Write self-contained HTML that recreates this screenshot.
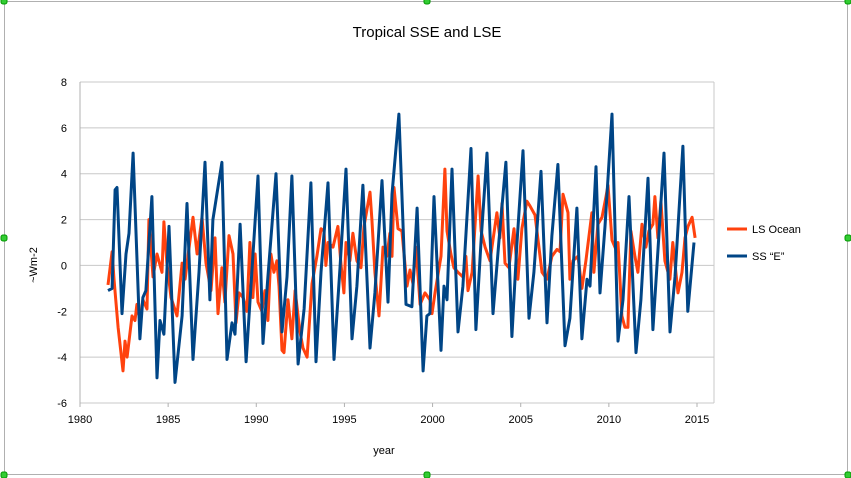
<!DOCTYPE html>
<html><head><meta charset="utf-8"><style>
html,body{margin:0;padding:0;background:#fff;}
svg{display:block;font-family:"Liberation Sans",sans-serif;}
</style></head><body>
<svg id="chart" width="851" height="478" viewBox="0 0 851 478">
<rect x="0" y="0" width="851" height="478" fill="#fff"/>
<rect x="4.5" y="1.5" width="843" height="473" fill="none" stroke="#b0b0b0" stroke-width="1"/>
<text x="427" y="37" text-anchor="middle" font-size="15" fill="#000">Tropical SSE and LSE</text>
<text x="384" y="454" text-anchor="middle" font-size="11" fill="#000">year</text>
<text transform="translate(37,265) rotate(-90)" text-anchor="middle" font-size="11" fill="#000">~Wm-2</text>
<g id="grid"></g><g id="axes"></g><g id="series"></g>
<g>
<line x1="727" y1="229" x2="747" y2="229" stroke="#ff420e" stroke-width="3"/>
<text x="752" y="233" font-size="11">LS Ocean</text>
<line x1="727" y1="256" x2="747" y2="256" stroke="#004586" stroke-width="3"/>
<text x="752" y="260" font-size="11">SS “E”</text>
</g>
<g fill="#3c3" stroke="#090" stroke-width="1">
<rect x="1" y="-2" width="6" height="6" rx="2"/>
<rect x="424" y="-2" width="6" height="6" rx="2"/>
<rect x="845" y="-2" width="6" height="6" rx="2"/>
<rect x="1" y="235" width="6" height="6" rx="2"/>
<rect x="845" y="235" width="6" height="6" rx="2"/>
<rect x="1" y="472" width="6" height="6" rx="2"/>
<rect x="424" y="472" width="6" height="6" rx="2"/>
<rect x="845" y="472" width="6" height="6" rx="2"/>
</g>
</svg>
<script>
const xTicks=[1980,1985,1990,1995,2000,2005,2010,2015];
const yTicks=[-6,-4,-2,0,2,4,6,8];
const lsYears=[1981.59,1981.82,1981.93,1982.16,1982.44,1982.55,1982.67,1982.95,1983.12,1983.23,1983.40,1983.57,1983.80,1983.91,1984.14,1984.37,1984.65,1984.76,1984.93,1985.16,1985.50,1985.79,1985.96,1986.13,1986.41,1986.64,1986.92,1987.15,1987.43,1987.66,1987.83,1988.05,1988.22,1988.45,1988.68,1988.85,1989.02,1989.25,1989.47,1989.64,1989.81,1989.93,1990.10,1990.32,1990.49,1990.66,1990.83,1991.00,1991.17,1991.29,1991.46,1991.57,1991.80,1992.02,1992.20,1992.48,1992.65,1992.88,1993.16,1993.44,1993.67,1993.84,1993.95,1994.07,1994.35,1994.63,1994.80,1994.97,1995.09,1995.31,1995.48,1995.71,1995.94,1996.11,1996.45,1996.56,1996.73,1996.96,1997.19,1997.41,1997.58,1997.70,1997.81,1998.04,1998.26,1998.55,1998.72,1998.89,1999.06,1999.29,1999.57,1999.85,1999.97,2000.14,2000.48,2000.70,2000.82,2001.04,2001.21,2001.44,2001.72,2001.89,2002.01,2002.24,2002.58,2002.75,2002.98,2003.26,2003.65,2003.82,2003.94,2004.11,2004.33,2004.62,2004.84,2005.07,2005.35,2005.52,2005.81,2006.21,2006.49,2006.77,2007.06,2007.23,2007.40,2007.68,2007.79,2007.96,2008.25,2008.47,2008.70,2009.04,2009.15,2009.38,2009.61,2009.84,2009.95,2010.18,2010.40,2010.52,2010.74,2010.91,2011.08,2011.25,2011.48,2011.65,2011.88,2012.10,2012.27,2012.50,2012.61,2012.78,2012.95,2013.18,2013.46,2013.63,2013.92,2014.15,2014.32,2014.49,2014.72,2014.89];
const lsValues=[-0.85,0.6,-0.6,-2.7,-4.6,-3.3,-4.0,-2.2,-2.4,-1.7,-2.4,-1.5,-1.9,2.0,-0.5,0.5,-0.3,1.9,0.1,-1.4,-2.2,0.1,-0.6,0.45,2.1,0.5,2.1,0.1,-1.1,1.2,-2.1,-0.1,-1.6,1.3,0.5,-2.5,-1.2,-1.4,-2.0,1.0,-1.4,0.5,-1.6,-2.0,-1.1,-2.4,0.5,-0.3,0.2,-0.9,-3.7,-3.8,-1.5,-3.2,-1.1,-2.9,-3.6,-4.0,-0.8,0.4,1.6,1.5,0.0,1.0,0.8,1.7,0.1,-1.2,1.0,0.2,1.4,0.2,-0.1,1.7,3.2,2.0,-0.3,-2.2,0.8,0.4,1.4,0.4,3.4,1.6,1.5,-0.9,-0.2,-0.8,0.8,-1.7,-1.2,-1.5,-2.1,-1.2,0.4,4.2,1.5,0.5,-0.1,-0.3,-0.5,0.4,-1.1,-0.3,3.9,1.5,0.8,0.2,2.3,1.2,2.7,0.1,-0.1,1.6,-0.6,1.6,2.8,2.6,2.2,-0.3,-0.6,0.4,0.7,0.6,3.1,2.3,-0.6,0.2,0.4,-1.0,0.2,2.3,-0.3,1.8,2.1,3.0,3.5,1.1,0.7,1.0,-2.2,-2.7,-2.7,1.5,0.4,-0.3,1.8,0.8,1.5,1.8,3.0,1.2,2.8,0.2,-0.6,1.0,-1.2,-0.3,1.2,1.7,2.1,1.2];
const ssYears=[1981.59,1981.82,1981.99,1982.10,1982.38,1982.61,1982.78,1983.01,1983.40,1983.57,1983.74,1984.08,1984.37,1984.54,1984.76,1985.05,1985.39,1985.79,1986.07,1986.41,1986.75,1987.09,1987.37,1987.54,1988.05,1988.34,1988.62,1988.79,1989.08,1989.42,1990.10,1990.38,1990.66,1991.12,1991.46,1991.74,1992.02,1992.37,1992.71,1993.10,1993.39,1993.67,1994.07,1994.41,1994.75,1995.09,1995.43,1995.71,1996.05,1996.45,1996.73,1997.13,1997.47,1997.70,1998.09,1998.49,1998.83,1999.12,1999.46,1999.68,1999.85,2000.08,2000.48,2000.65,2000.82,2001.10,2001.44,2001.72,2002.18,2002.46,2002.75,2003.09,2003.43,2003.77,2004.16,2004.50,2004.79,2005.13,2005.47,2005.75,2006.15,2006.49,2006.77,2007.11,2007.51,2007.79,2008.19,2008.47,2008.76,2008.93,2009.27,2009.50,2009.78,2010.18,2010.52,2010.80,2011.14,2011.54,2011.82,2012.22,2012.50,2012.79,2013.13,2013.47,2013.75,2014.20,2014.48,2014.83];
const ssValues=[-1.1,-1.0,3.3,3.4,-2.1,0.5,1.4,4.9,-3.2,-1.4,-1.1,3.0,-4.9,-2.4,-3.0,1.7,-5.1,-2.2,2.7,-4.1,-0.3,4.5,-1.5,2.0,4.5,-4.1,-2.5,-3.0,1.8,-4.2,3.9,-3.4,-0.5,4.0,-2.9,-0.5,3.9,-4.3,-1.9,3.6,-4.2,-0.3,3.6,-4.1,-0.1,4.2,-3.2,-0.9,3.5,-3.6,-1.2,3.7,-1.6,3.1,6.6,-1.7,-1.8,2.5,-4.6,-2.2,-2.1,3.0,-3.7,-0.9,-1.5,4.2,-2.9,-0.9,5.1,-2.8,1.1,4.9,-2.1,1.1,4.5,-3.1,1.0,5.0,-2.3,-0.3,4.1,-2.5,1.3,4.4,-3.5,-2.3,2.5,-3.2,-0.6,-0.9,4.3,-1.2,1.7,6.6,-3.3,-1.5,3.0,-3.8,-1.5,3.8,-2.8,0.7,4.9,-2.9,-0.5,5.2,-2.0,1.0];

const X0=80,X1=697,Y0=403,Y1=82,RIGHT=714;
const xs=v=>X0+(v-1980)*(X1-X0)/35;
const ys=v=>Y0-(v+6)*(Y0-Y1)/14;
const NS='http://www.w3.org/2000/svg';
function mk(tag,attrs,parent){const e=document.createElementNS(NS,tag);for(const k in attrs)e.setAttribute(k,attrs[k]);parent.appendChild(e);return e;}
const grid=document.getElementById('grid'),axes=document.getElementById('axes'),series=document.getElementById('series');
yTicks.forEach(t=>{
  const l=mk('line',{x1:X0,x2:RIGHT,y1:ys(t),y2:ys(t),stroke:'#c8c8c8','stroke-width':1},grid);
  
  
  const tx=mk('text',{x:67,y:ys(t)+4,'text-anchor':'end','font-size':11},axes);
  tx.textContent=t;
  
  
});
const va=mk('line',{x1:X0,x2:X0,y1:Y1,y2:Y0,stroke:'#b0b0b0','stroke-width':1},grid);


const vr=mk('line',{x1:RIGHT,x2:RIGHT,y1:Y1,y2:Y0,stroke:'#c8c8c8','stroke-width':1},grid);


xTicks.forEach(t=>{
  const tk=mk('line',{x1:xs(t),x2:xs(t),y1:Y0,y2:Y0+4,stroke:'#b0b0b0'},axes);
  
  
  const tx=mk('text',{x:xs(t),y:Y0+20,'text-anchor':'middle','font-size':11},axes);
  tx.textContent=t;
  
  
});
function path(yrs,vals,color,name){
  const d=yrs.map((y,i)=>(i?'L':'M')+xs(y).toFixed(1)+','+ys(vals[i]).toFixed(1)).join('');
  const p=mk('path',{d:d,fill:'none',stroke:color,'stroke-width':3,'stroke-linejoin':'round'},series);
  
  
}
path(lsYears,lsValues,'#ff420e','ls-ocean-line');
path(ssYears,ssValues,'#004586','ss-e-line');
</script>
</body></html>
